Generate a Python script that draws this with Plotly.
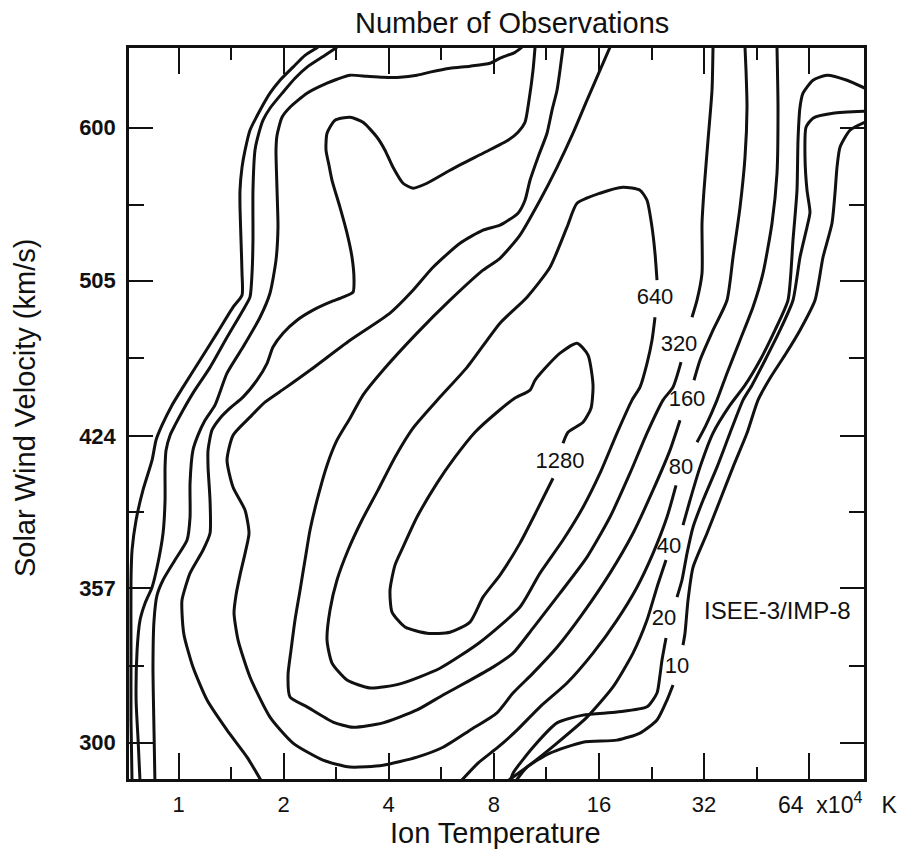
import math
import plotly.graph_objects as go

# Ion temperature in units of 1e4 K, solar wind velocity in km/s.
# Each contour level is stored as one or more traced polylines.

# ---- level 10 ----
t10_left = [2.509, 2.303, 2.128, 1.953, 1.828, 1.712, 1.602, 1.551, 1.520, 1.500, 1.500, 1.510, 1.520, 1.520,
            1.433, 1.289, 1.152, 1.030, 0.958, 0.897, 0.862, 0.840, 0.791, 0.756, 0.736, 0.731, 0.731, 0.731, 0.736]
v10_left = [657, 651, 642.4, 633, 623.8, 611.9, 598.3, 585, 573.8, 559.2, 548.5, 528.6, 509.3, 496.8,
            490.2, 476, 461.7, 447.9, 438.9, 429.1, 421.9, 412.5, 398.8, 385.6, 372.7, 360.4, 333, 307.8, 287]
t10_right_a = [92.5, 83.792, 78.446, 76.908, 75.900, 74.413, 70.128, 66.523, 60.258, 54.584, 49.442, 45.681,
               42.486, 38.739, 35.556, 32.636, 29.756, 28.792, 28.228, 27.858]
v10_right_a = [603.7, 598.3, 587.0, 573.8, 557.3, 538.8, 518.5, 494.0, 477.6, 464.4, 452.4, 441.4,
               425.3, 409.3, 394.3, 379.9, 365.6, 352.3, 339.5, 334.9]
t10_right_b = [26.079, 25.068, 23.468, 20.980, 18.026, 14.407, 11.588, 9.957, 9.200]
v10_right_b = [320.2, 314.8, 307.8, 303.3, 300.9, 300.2, 296.5, 291.9, 287]

# ---- level 20 ----
t20_left = [2.844, 2.628, 2.334, 2.156, 1.992, 1.828, 1.746, 1.678, 1.656, 1.634, 1.634, 1.624, 1.602, 1.530,
            1.377, 1.231, 1.100, 1.030, 0.977, 0.946, 0.921, 0.915, 0.915, 0.903, 0.868, 0.840, 0.802, 0.776,
            0.761, 0.756, 0.766, 0.776]
v20_left = [657, 651, 642.4, 634.4, 624.5, 613.3, 605.1, 591.6, 585, 559.2, 528.6, 509.3, 495.7, 488.5,
            473.8, 458, 444.9, 436.4, 429.1, 424.3, 417.2, 409.3, 394.3, 379.9, 365.6, 357.5, 351.1, 344.5,
            333, 314.8, 300.9, 287]
t20_right_a = [92.5, 74.908, 65.652, 62.690, 62.278, 63.105, 64.365, 63.105, 60.258, 57.540, 52.814, 47.840,
               43.909, 41.380, 37.979, 34.859, 31.786, 29.756, 28.603, 27.675, 26.776]
v20_right_a = [611.2, 609.8, 606.5, 600.3, 580.4, 559.2, 545.5, 536.4, 518.5, 494.0, 477.6, 461.7,
               448.9, 441.4, 425.3, 409.3, 394.3, 382.5, 371.4, 360.4, 353.5]
t20_right_b = [24.903, 24.255, 23.937, 23.468, 21.971, 18.026, 14.407, 12.136, 10.36, 9.079, 8.901]
v20_right_b = [337.6, 329.3, 323.8, 317.3, 312.4, 310.6, 309.5, 306.8, 298.5, 289.9, 287]

# ---- level 40 ----
t40_left = [9.634, 9.200, 8.333, 7.801, 6.837, 5.992, 5.252, 4.821, 4.309, 3.852, 3.467, 3.099, 2.844, 2.663,
            2.334, 2.086, 1.979, 1.915, 1.902, 1.915, 1.927, 1.902, 1.828, 1.712, 1.530, 1.377, 1.272, 1.191,
            1.137, 1.100, 1.079, 1.079, 1.058, 0.977, 0.903, 0.868, 0.851, 0.845, 0.851, 0.856]
v40_left = [657, 653.2, 648.9, 645.2, 643.1, 641.6, 638.8, 636.6, 635.1, 635.1, 635.8, 636.6, 633.7, 630.9,
            623.8, 614, 607.1, 594.9, 585, 559.2, 536.4, 516.8, 497.9, 484.6, 468.6, 455, 438.9, 431.5,
            424.3, 417.2, 402, 386.9, 377, 368.6, 360.4, 354.3, 344.5, 326.7, 303.3, 287]
t40_right_a = [92.5, 82.153, 72.002, 65.652, 61.463, 60.258, 59.468, 59.078, 57.540, 55.676, 51.099, 46.288,
               41.929, 37.979, 33.952, 31.163, 29.173, 27.858]
v40_right_a = [627.3, 633.0, 636.6, 633.0, 623.8, 614.0, 591.6, 559.2, 528.6, 494.0, 477.6, 461.7,
               448.9, 438.9, 425.3, 409.3, 394.3, 383.4]
t40_right_b = [24.903, 23.468, 21.971, 20.033, 17.557, 14.791, 12.136, 9.957, 8.669]
v40_right_b = [368.6, 357.5, 344.5, 331.9, 319.5, 308.8, 299.9, 291.9, 287]

# ---- level 80 ----
t80_left = [10.50, 10.36, 10.09, 9.827, 9.384, 8.785, 7.449, 5.992, 5.149, 4.695, 4.395, 4.115, 3.903, 3.703,
            3.376, 3.099, 2.807, 2.663, 2.645, 2.698, 2.752, 2.901, 3.038, 3.140, 3.182, 3.161, 2.959, 2.716,
            2.428, 2.185, 1.992, 1.865, 1.793, 1.678, 1.530, 1.404, 1.315, 1.247, 1.215, 1.215, 1.231, 1.231,
            1.175, 1.079, 1.023, 1.023, 1.037, 1.100, 1.207, 1.377, 1.571, 1.734]
v80_left = [657, 640.2, 618.9, 603.7, 597, 591.6, 583, 571.9, 563.6, 560.5, 563.6, 573.8, 585, 593.6,
            603.7, 607.1, 605.1, 596.3, 585, 575.1, 565.5, 548.5, 532.8, 518.5, 505.3, 498.5, 495.7, 492.9,
            488.5, 483, 476, 468.6, 460.1, 451.4, 442.9, 437.4, 432.5, 426.7, 417.2, 409.3, 394.3, 379.9,
            372.7, 363.2, 352.3, 347.6, 338.7, 326.7, 314.8, 304.3, 295.2, 287]
t80_right_a = [51.778, 52.121, 51.778, 50.099, 47.214, 44.200, 40.569, 37.236, 34.859, 32.421, 30.551]
v80_right_a = [657, 614.0, 570.0, 538.8, 509.3, 490.2, 472.2, 455.0, 441.4, 429.1, 420.9]
t80_right_b = [26.600, 25.068, 22.857, 20.568, 18.026, 15.388, 12.963, 10.849, 9.322, 8.224, 7.208, 6.401]
v80_right_b = [401.0, 386.9, 371.4, 357.5, 344.5, 331.9, 320.9, 312.4, 304.3, 298.5, 293.2, 287]

# ---- level 160 ----
t160_a = [12.626, 12.378, 12.136, 11.742, 11.362, 10.707, 10.157, 9.827, 9.384, 8.333, 7.449, 6.401, 5.357,
          4.695, 4.034, 3.099, 2.380, 2.019, 1.769, 1.602, 1.433, 1.377, 1.433, 1.551, 1.592, 1.551, 1.500,
          1.461, 1.442, 1.481, 1.602, 1.828, 2.128, 2.593, 3.099, 3.852, 4.821, 5.722, 6.837, 8.170, 9.079,
          10.36, 12.136, 14.407, 17.213, 20.033, 22.857, 25.568, 27.312]
v160_a = [657, 640.2, 625.9, 611.9, 596.3, 580.4, 565.5, 552.9, 544.9, 537.6, 534.6, 526.8, 512.7,
          499.6, 486.9, 472.2, 456.5, 447.4, 440.4, 433, 424.3, 412.5, 400.1, 389.9, 379.9, 371.4, 362.4,
          354.3, 347.2, 336.8, 323.1, 308.8, 299.9, 294.2, 291.9, 292.5, 295.2, 298.5, 304.3, 310.3, 317.3,
          324.5, 334.1, 347.2, 363.2, 379.9, 398.8, 417.2, 431.5]
t160_b = [29.953, 31.163, 33.952, 37.236, 38.739, 40.569, 41.929, 42.486, 42.206, 41.929]
v160_b = [451.4, 461.7, 477.6, 494.0, 518.5, 548.5, 580.4, 614.0, 640.2, 657]

# ---- level 320 ----
t320_a = [17.213, 16.115, 14.791, 13.486, 12.136, 10.849, 9.508, 8.333, 7.449, 5.992, 4.821, 3.852, 3.376,
          3.099, 2.844, 2.663, 2.493, 2.380, 2.303, 2.229, 2.156, 2.100, 2.059, 2.086, 2.334, 2.770, 3.161,
          3.852, 4.821, 5.722, 6.703, 7.957, 9.079, 10.36, 12.378, 14.791, 17.213, 19.640, 21.971, 24.416,
          26.079, 27.493]
v320_a = [657, 640.2, 618.9, 596.3, 573.8, 552.9, 531.6, 517.9, 511.0, 494.0, 476.0, 456.5, 443.9,
          432.5, 421.9, 410.2, 394.3, 381.2, 368.6, 356.3, 344.5, 333.0, 323.8, 315.9, 312.4, 307.1, 305.3,
          306.8, 311.3, 316.6, 321.3, 326.7, 331.9, 341.4, 355.1, 369.8, 386.9, 406.5, 425.3, 441.4,
          447.9, 460.7]
t320_b = [29.560, 30.551, 31.577, 31.577, 31.996, 32.851, 33.728, 33.952]
v320_b = [484.6, 494.0, 509.3, 538.8, 559.2, 591.6, 625.9, 657]

# ---- level 640 ----
t640 = [23.160, 22.707, 21.971, 20.980, 19.901, 18.026, 16.115, 14.407, 12.626, 10.849, 9.508, 7.303, 5.610,
        4.309, 3.536, 3.038, 2.752, 2.663, 2.716, 2.844, 3.058, 3.354, 3.727, 4.169, 4.695, 5.610, 6.703,
        8.333, 9.957, 11.588, 12.963, 13.847, 16.115, 18.755, 20.980, 21.971, 22.707, 23.160, 23.468]
v640 = [484.6, 472.2, 460.1, 447.9, 441.4, 425.3, 406.5, 391.2, 377.0, 363.2, 349.6, 336.0, 326.3,
        320.6, 319.1, 322.0, 328.2, 336.8, 348.4, 360.4, 372.7, 385.6, 398.8, 413.9, 427.7, 442.9, 458.0,
        481.4, 495.7, 512.7, 536.4, 551.0, 557.3, 561.1, 559.2, 552.9, 536.4, 520.8, 505.3]

# ---- level 1280 ----
t1280 = [11.820, 10.637, 9.508, 8.333, 7.449, 6.837, 5.992, 5.149, 4.454, 4.088, 4.034, 4.169, 4.395, 4.821,
         5.500, 6.193, 7.066, 8.170, 9.200, 10.157, 10.50, 11.213, 12.378, 13.847, 14.889, 15.388, 15.186,
         14.407, 13.049, 12.626]
v1280 = [404.2, 389.9, 375.7, 362.4, 353.5, 343.7, 339.8, 339.4, 341.8, 347.6, 356.3, 366.5, 374.0, 386.9,
         402.0, 413.9, 425.7, 435.4, 442.4, 446.4, 451.4, 457.5, 465.4, 470.6, 464.4, 448.9, 437.4,
         430.5, 425.7, 420.5]

# ---- contour labels ----
label_text = ["1280", "640", "320", "160", "80", "40", "20", "10"]
label_t = [12.378, 23.16, 27.13, 28.60, 27.49, 25.40, 24.58, 26.78]
label_v = [411.6, 495.1, 469.6, 441.4, 408.8, 374.0, 344.9, 326.7]

# ---- axes ----
x_ticks = [1, 2, 4, 8, 16, 32, 64]
x_ticktext = ["1", "2", "4", "8", "16", "32", ""]
x_minor = [1.414, 2.828, 5.657, 11.31, 22.63, 45.25]
y_ticks = [300, 357, 424, 505, 600]
y_ticktext = ["300", "357", "424", "505", "600"]
y_minor = [327.1, 389.0, 462.6, 550.2]
x_range = (0.7214, 91.9)
y_range = (288.0, 656.4)

INK = "#111111"
FONT = "Liberation Sans, Arial, Helvetica, sans-serif"

segments = [
    (t10_left, v10_left), (t10_right_a, v10_right_a), (t10_right_b, v10_right_b),
    (t20_left, v20_left), (t20_right_a, v20_right_a), (t20_right_b, v20_right_b),
    (t40_left, v40_left), (t40_right_a, v40_right_a), (t40_right_b, v40_right_b),
    (t80_left, v80_left), (t80_right_a, v80_right_a), (t80_right_b, v80_right_b),
    (t160_a, v160_a), (t160_b, v160_b),
    (t320_a, v320_a), (t320_b, v320_b),
    (t640, v640), (t1280, v1280),
]

fig = go.Figure()
for t, v in segments:
    fig.add_trace(go.Scatter(
        x=t, y=v, mode="lines",
        line=dict(color=INK, width=3, shape="spline", smoothing=0.6),
        hoverinfo="skip", showlegend=False,
    ))

fig.add_trace(go.Scatter(
    x=label_t, y=label_v, mode="text", text=label_text,
    textfont=dict(family=FONT, size=22, color=INK),
    hoverinfo="skip", showlegend=False,
))

fig.update_layout(
    width=909, height=856,
    margin=dict(l=129, r=45, t=48, b=77),
    paper_bgcolor="white", plot_bgcolor="white",
    showlegend=False,
)

fig.update_xaxes(
    type="log", range=[math.log10(x_range[0]), math.log10(x_range[1])],
    showline=True, linecolor=INK, linewidth=2.5, mirror="ticks",
    ticks="inside", ticklen=26, tickwidth=2, tickcolor=INK,
    tickmode="array", tickvals=x_ticks, ticktext=x_ticktext,
    tickfont=dict(family=FONT, size=22, color=INK),
    ticklabelstandoff=4,
    showgrid=False, zeroline=False,
    minor=dict(ticks="inside", ticklen=12, tickwidth=2, tickcolor=INK,
               tickmode="array", tickvals=x_minor, showgrid=False),
)
fig.update_yaxes(
    type="log", range=[math.log10(y_range[0]), math.log10(y_range[1])],
    showline=True, linecolor=INK, linewidth=2.5, mirror="ticks",
    ticks="inside", ticklen=24, tickwidth=2, tickcolor=INK,
    tickmode="array", tickvals=y_ticks, ticktext=y_ticktext,
    tickfont=dict(family=FONT, size=22, color=INK, weight="bold"),
    ticklabelstandoff=6,
    showgrid=False, zeroline=False,
    minor=dict(ticks="inside", ticklen=15, tickwidth=2, tickcolor=INK,
               tickmode="array", tickvals=y_minor, showgrid=False),
)

NB = "\u00a0"
annotations = [
    dict(text="Number of Observations", x=0.521, y=1.034, xref="paper", yref="paper",
         xanchor="center", yanchor="middle", showarrow=False,
         font=dict(family=FONT, size=29, color=INK)),
    dict(text="Solar Wind Velocity (km/s)", x=-0.1415, y=0.5075, xref="paper", yref="paper",
         xanchor="center", yanchor="middle", textangle=-90, showarrow=False,
         font=dict(family=FONT, size=29, color=INK)),
    dict(text="Ion Temperature", x=0.498, y=-0.0745, xref="paper", yref="paper",
         xanchor="center", yanchor="middle", showarrow=False,
         font=dict(family=FONT, size=29, color=INK)),
    dict(text="64" + NB + NB + "x10<sup>4</sup>" + NB + NB + NB + "K", x=0.8803, y=-0.0335,
         xref="paper", yref="paper", xanchor="left", yanchor="middle", showarrow=False,
         font=dict(family=FONT, size=23, color=INK)),
    dict(text="ISEE-3/IMP-8", x=math.log10(51.78), y=math.log10(348.4), xref="x", yref="y",
         xanchor="center", yanchor="middle", showarrow=False,
         font=dict(family=FONT, size=24, color=INK)),
]
fig.update_layout(annotations=annotations)

fig.write_html("out.html")
